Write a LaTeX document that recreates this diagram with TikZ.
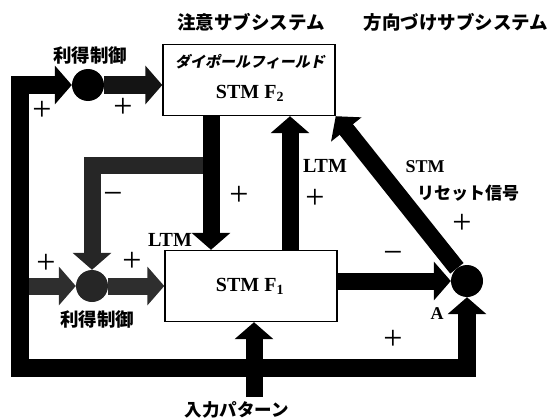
\documentclass[tikz,border=0pt]{standalone}
\usepackage{fontspec}
\setmainfont{Liberation Serif}
\newfontfamily\jp{Noto Sans CJK JP}
\newfontfamily\jpsl{Noto Sans CJK JP}[FakeSlant=0.2]
\usetikzlibrary{arrows.meta}
\begin{document}
\begin{tikzpicture}[x=1pt,y=-1pt,
  bigarr/.style={line width=17pt, line join=miter, -{Triangle[width=38pt,length=17pt]}},
  bothend/.style={line width=18pt, line join=miter, {Triangle[width=38pt,length=17pt]}-{Triangle[width=38pt,length=17pt]}},
  box/.style={draw, line width=1.4pt, fill=white, minimum width=172pt, minimum height=71pt, inner sep=0pt},
  dot/.style={circle, fill=black, minimum size=32pt, inner sep=0pt},
  jlab/.style={font=\jp\bfseries\fontsize{18.5}{18.5}\selectfont, inner sep=0pt},
  elab/.style={font=\bfseries\fontsize{20}{20}\selectfont, inner sep=0pt},
  sgn/.style={font=\fontsize{34}{34}\selectfont, inner sep=0pt}]
\useasboundingbox (0,0) rectangle (549,420);
% boxes and junctions
\node[box] (F2) at (249,80) {};
\node[box] (F1) at (251,286) {};
\node[dot] (G1) at (88,85) {};
\node[dot, fill=black!85] (G2) at (92,286) {};
\node[dot] (A) at (467,281) {};
% coordinates
\coordinate (lb) at (20,368);
\coordinate (lm) at (24,286);
\coordinate (br) at (211,165);
\coordinate (inp) at (254,397);
% gray connectors
\draw[bigarr, black!82] (lm) -- (G2.west);
\draw[bigarr, black!82] (G2.east) -- (F1.west |- G2);
\draw[bigarr, black!85] (br) -| (G2.north);
% black connectors
\draw[bothend] (G1.west) -| (lb) -| (A.south);
\draw[bigarr, black!92] (G1.east) -- (F2.west |- G1);
\draw[bigarr] (F2.south -| br) -- (F1.north -| br);
\draw[bigarr] (F1.north -| 290,0) -- (F2.south -| 290,0);
\draw[bigarr] (F1.east |- A) -- (A.west);
\draw[bigarr] (A) -- (F2.south east);
\draw[bigarr] (inp) -- (F1.south -| inp);
% texts
\node[jlab] (t1) at (251,22) {注意サブシステム};
\node[jlab] (t2) at (456,22) {方向づけサブシステム};
\node[jlab] (t3) at (90,55) {利得制御};
\node[jlab] (t4) at (97,319) {利得制御};
\node[jlab, font=\jp\bfseries\fontsize{17.5}{17.5}\selectfont] (t5) at (237,410) {入力パターン};
\node[jlab, font=\jp\bfseries\fontsize{17}{17}\selectfont] (t6) at (468,193) {リセット信号};
\node[inner sep=0pt, font=\jpsl\bfseries\fontsize{15}{15}\selectfont] (t7) at (250,62) {ダイポールフィールド};
\node[elab] (t8) at (250,93) {STM F\textsubscript{2}};
\node[elab] (t9) at (250,286) {STM F\textsubscript{1}};
\node[elab] (t10) at (170,240) {LTM};
\node[elab] (t11) at (325,166) {LTM};
\node[elab, font=\bfseries\fontsize{18}{18}\selectfont] (t12) at (425,167) {STM};
\node[elab, font=\bfseries\fontsize{18}{18}\selectfont] (t13) at (437,314) {A};
\node[sgn] (s1) at (42,111) {+};
\node[sgn] (s2) at (123,108) {+};
\node[sgn] (s3) at (113,198) {−};
\node[sgn] (s4) at (239,196) {+};
\node[sgn] (s5) at (315,199) {+};
\node[sgn] (s6) at (462,224) {+};
\node[sgn] (s7) at (393,257) {−};
\node[sgn] (s8) at (393,340) {+};
\node[sgn] (s9) at (46,264) {+};
\node[sgn] (s10) at (132,262) {+};
\end{tikzpicture}
\end{document}
